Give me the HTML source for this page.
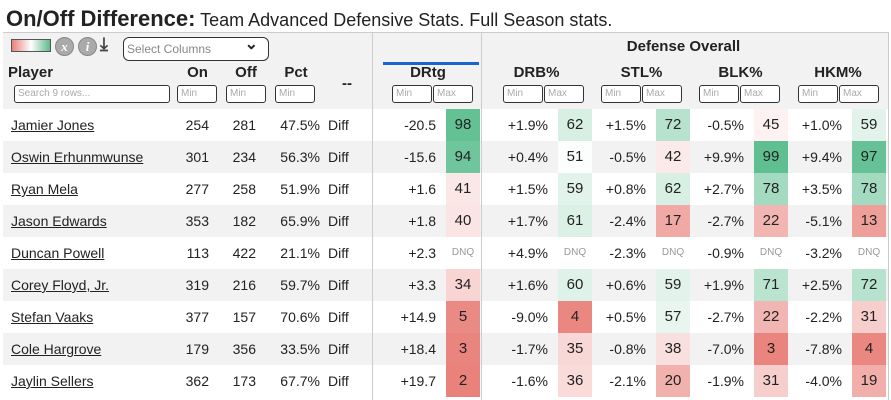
<!DOCTYPE html>
<html><head><meta charset="utf-8"><style>
body{margin:0;width:891px;height:400px;overflow:hidden;background:#fff;font-family:"Liberation Sans",sans-serif;color:#222}
#title{position:absolute;left:6px;top:6px;font-size:18px;white-space:nowrap}
#title b{font-size:22px}
#hdr{position:absolute;left:3px;top:32px;width:885px;height:76px;background:#f2f2f2;border-top:1px solid #ccc;border-bottom:1px solid #555}
.abs{position:absolute}
.inp{position:absolute;height:18px;border:1px solid #333;border-radius:3px;background:#fff;font-size:10px;color:#aaa;box-sizing:border-box;padding:2px 3px;line-height:12px}
.h{position:absolute;font-weight:bold;font-size:15px;text-align:center}
.cell{position:absolute;height:32px;line-height:32px;font-size:14px;box-sizing:border-box}
.vl{position:absolute;width:1px;background:#ccc}
</style></head><body>
<div id="title"><b>On/Off Difference:</b> Team Advanced Defensive Stats. Full Season stats.</div>
<div id="hdr">
 <div class="abs" style="left:8px;top:6px;width:38px;height:11px;border:1px solid #555;background:linear-gradient(90deg,#e8807a,#fff,#5fb98a)"></div>
 <div class="abs" style="left:52px;top:4px;width:17px;height:17px;border-radius:50%;background:#aaa;border:1px solid #888;color:#fff;font:italic bold 13px 'Liberation Serif';text-align:center;line-height:17px">x</div>
 <div class="abs" style="left:75px;top:4px;width:17px;height:17px;border-radius:50%;background:#aaa;border:1px solid #888;color:#fff;font:italic bold 13px 'Liberation Serif';text-align:center;line-height:17px">i</div>
 <div class="abs" style="left:97px;top:1px;font-size:18px;font-weight:bold;color:#444">⤓</div>
 <div class="inp" style="left:120px;top:4px;width:146px;height:24px;border-radius:6px;font-size:12px;color:#888;line-height:18px">Select Columns<span style="position:absolute;right:10px;top:-2px;color:#222;font-size:16px;font-weight:bold">⌄</span></div>
 <div class="h" style="left:478px;top:5px;width:405px">Defense Overall</div>
 <div class="abs" style="left:380px;top:29px;width:96px;height:3px;background:#1a66cc"></div>
</div>
<div id="body"></div>
<script>
const players=["Jamier Jones","Oswin Erhunmwunse","Ryan Mela","Jason Edwards","Duncan Powell","Corey Floyd, Jr.","Stefan Vaaks","Cole Hargrove","Jaylin Sellers"];
const onMin=[254,301,277,353,113,319,377,179,362];
const offMin=[281,234,258,182,422,216,157,356,173];
const pct=["47.5%","56.3%","51.9%","65.9%","21.1%","59.7%","70.6%","33.5%","67.7%"];
const drtg=["-20.5","-15.6","+1.6","+1.8","+2.3","+3.3","+14.9","+18.4","+19.7"];
const drtgP=[98,94,41,40,null,34,5,3,2];
const drb=["+1.9%","+0.4%","+1.5%","+1.7%","+4.9%","+1.6%","-9.0%","-1.7%","-1.6%"];
const drbP=[62,51,59,61,null,60,4,35,36];
const stl=["+1.5%","-0.5%","+0.8%","-2.4%","-2.3%","+0.6%","+0.5%","-0.8%","-2.1%"];
const stlP=[72,42,62,17,null,59,57,38,20];
const blk=["-0.5%","+9.9%","+2.7%","-2.7%","-0.9%","+1.9%","-2.7%","-7.0%","-1.9%"];
const blkP=[45,99,78,22,null,71,22,3,31];
const hkm=["+1.0%","+9.4%","+3.5%","-5.1%","-3.2%","+2.5%","-2.2%","-7.8%","-4.0%"];
const hkmP=[59,97,78,13,null,72,31,4,19];
const hdrs=[["Player",8,"left"],["On",173,"c",49],["Off",222,"c",48],["Pct",270,"c",52],["--",322,"c",50],["DRtg",378,"c",100],["DRB%",481,"c",111],["STL%",592,"c",99],["BLK%",691,"c",99],["HKM%",790,"c",96]];
const hdr=document.getElementById('hdr');
hdrs.forEach(h=>{const d=document.createElement('div');d.className='h';


d.textContent=h[0];d.style.top=(h[0]=='--'?'42px':'31px');d.style.left=(h[1]-3)+'px';if(h[3])d.style.width=h[3]+'px';else d.style.textAlign='left';hdr.appendChild(d);});
function inp(x,w,t){const d=document.createElement('div');d.className='inp';


d.textContent=t;d.style.left=(x-3)+'px';d.style.top='52px';d.style.width=w+'px';hdr.appendChild(d);}
inp(14,156,"Search 9 rows...");inp(177,40,"Min");inp(226,40,"Min");inp(275,40,"Min");
[392,503,601,699,798].forEach(x=>{inp(x,40,"Min");inp(x+41,40,"Max");});
function col(p){if(p==null)return'#fff';const g=[92,190,143],r=[232,125,118];let t,c;
if(p>=50){t=(p-50)/50;c=g}else{t=(50-p)/50;c=r}
return 'rgb('+c.map(v=>Math.round(255+(v-255)*t)).join(',')+')';}
const body=document.getElementById('body');
function cell(x,y,w,txt,al,bg,name,extra){const d=document.createElement('div');d.className='cell';


d.style.left=x+'px';d.style.top=y+'px';d.style.width=w+'px';d.style.textAlign=al;d.style.paddingRight=al=='right'?'6px':'0';
if(bg)d.style.background=bg;d.textContent=txt;if(extra)Object.assign(d.style,extra);body.appendChild(d);return d;}
const stats=[[drtg,drtgP,372,74,34],[drb,drbP,481,77,34],[stl,stlP,592,64,34],[blk,blkP,690,64,34],[hkm,hkmP,788,64,34]];
players.forEach((p,i)=>{const y=109+i*32;
 cell(3,y,885,'', 'left', i%2?'#f2f2f2':'#fff','table-row');
 const n=cell(11,y,160,p,'left',null,'player-link',{textDecoration:'underline'});
 cell(173,y,42,onMin[i],'right',null,'on-minutes');
 cell(222,y,40,offMin[i],'right',null,'off-minutes');
 cell(270,y,50,pct[i],'right',null,'pct-on',{paddingRight:'0'});
 cell(328,y,40,'Diff','left',null,'diff-label');
 stats.forEach(s=>{cell(s[2],y,s[3],s[0][i],'right',null,'stat-value',{paddingRight:'10px'});
  const v=s[1][i];
  cell(s[2]+s[3],y,s[4],v==null?'DNQ':v,'center',v==null?null:col(v),'stat-percentile',v==null?{fontSize:'10px',color:'#999'}:{fontSize:'15px'});});
});
[372,481].forEach(x=>{const d=document.createElement('div');d.className='vl';


d.style.left=x+'px';d.style.top='32px';d.style.height='368px';body.appendChild(d);});
const rb=document.createElement('div');rb.className='vl';


rb.style.left='888px';rb.style.top='32px';rb.style.height='368px';body.appendChild(rb);
</script>
</body></html>
